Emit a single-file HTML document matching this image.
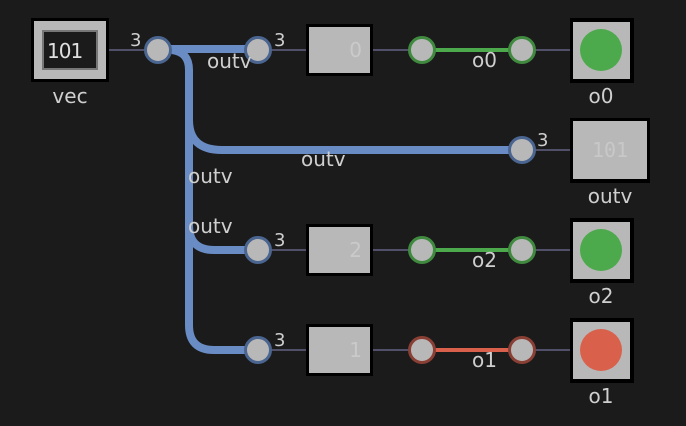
<!DOCTYPE html>
<html><head><style>html,body{margin:0;padding:0;background:#1b1b1b;}svg{display:block}</style></head>
<body>
<svg width="686" height="426" xmlns="http://www.w3.org/2000/svg" font-family="DejaVu Sans, Liberation Sans, sans-serif">
<rect width="686" height="426" fill="#1b1b1b"/>
<g stroke="#50506a" stroke-width="2">
<line x1="108" y1="50" x2="146" y2="50"/>
<line x1="270" y1="50" x2="308" y2="50"/><line x1="372" y1="50" x2="410" y2="50"/><line x1="534" y1="50" x2="572" y2="50"/>
<line x1="534" y1="150" x2="572" y2="150"/>
<line x1="270" y1="250" x2="308" y2="250"/><line x1="372" y1="250" x2="410" y2="250"/><line x1="534" y1="250" x2="572" y2="250"/>
<line x1="270" y1="350" x2="308" y2="350"/><line x1="372" y1="350" x2="410" y2="350"/><line x1="534" y1="350" x2="572" y2="350"/>
</g>
<g stroke="#6a8cc4" stroke-width="8" fill="none">
<line x1="158" y1="49" x2="258" y2="49"/>
<path d="M172 50 Q189 52 189 70 L189 325 Q189 350 214 350 L258 350"/>
<path d="M189 120 Q189 150 222 150 L522 150"/>
<path d="M189 225 Q189 250 214 250 L258 250"/>
</g>
<line x1="422" y1="50" x2="522" y2="50" stroke="#4caa4c" stroke-width="4"/>
<line x1="422" y1="250" x2="522" y2="250" stroke="#4caa4c" stroke-width="4"/>
<line x1="422" y1="350" x2="522" y2="350" stroke="#d9604a" stroke-width="4"/>
<g fill="#b8b8b8" stroke-width="3">
<circle cx="158" cy="50" r="12.5" stroke="#4a6590"/>
<circle cx="258" cy="50" r="12.5" stroke="#4a6590"/>
<circle cx="522" cy="150" r="12.5" stroke="#4a6590"/>
<circle cx="258" cy="250" r="12.5" stroke="#4a6590"/>
<circle cx="258" cy="350" r="12.5" stroke="#4a6590"/>
<circle cx="422" cy="50" r="12.5" stroke="#3f8a3f"/><circle cx="522" cy="50" r="12.5" stroke="#3f8a3f"/>
<circle cx="422" cy="250" r="12.5" stroke="#3f8a3f"/><circle cx="522" cy="250" r="12.5" stroke="#3f8a3f"/>
<circle cx="422" cy="350" r="12.5" stroke="#8a3f35"/><circle cx="522" cy="350" r="12.5" stroke="#8a3f35"/>
</g>
<rect x="31" y="18" width="78" height="64" fill="#000"/>
<rect x="34" y="21" width="72" height="58" fill="#b8b8b8"/>
<rect x="42" y="30" width="56" height="40" fill="#777"/>
<rect x="44" y="32" width="52" height="36" fill="#1b1b1b"/>
<text x="47" y="58" font-size="20" fill="#e0e0e0" letter-spacing="-1">101</text>
<g>
<rect x="306" y="24" width="67" height="52" fill="#000"/><rect x="309" y="27" width="61" height="46" fill="#b8b8b8"/>
<rect x="306" y="224" width="67" height="52" fill="#000"/><rect x="309" y="227" width="61" height="46" fill="#b8b8b8"/>
<rect x="306" y="324" width="67" height="52" fill="#000"/><rect x="309" y="327" width="61" height="46" fill="#b8b8b8"/>
</g>
<g font-size="20" fill="#cacaca" text-anchor="end">
<text x="362" y="57">0</text><text x="362" y="257">2</text><text x="362" y="357">1</text>
</g>
<rect x="570" y="18" width="64" height="65" fill="#000"/><rect x="573" y="22" width="57" height="57" fill="#b8b8b8"/>
<circle cx="601" cy="50" r="21" fill="#4caa4c"/>
<rect x="570" y="118" width="80" height="65" fill="#000"/><rect x="573" y="121" width="74" height="58" fill="#b8b8b8"/>
<text x="610" y="157" font-size="20" font-family="DejaVu Sans Mono, Liberation Mono, monospace" fill="#c8c8c8" text-anchor="middle">101</text>
<rect x="570" y="218" width="64" height="65" fill="#000"/><rect x="573" y="222" width="57" height="57" fill="#b8b8b8"/>
<circle cx="601" cy="250" r="21" fill="#4caa4c"/>
<rect x="570" y="318" width="64" height="65" fill="#000"/><rect x="573" y="322" width="57" height="57" fill="#b8b8b8"/>
<circle cx="601" cy="350" r="21" fill="#d9604a"/>
<g font-size="20" fill="#cfcfcf">
<text x="70" y="103" text-anchor="middle">vec</text>
<text x="601" y="103" text-anchor="middle">o0</text>
<text x="610" y="203" text-anchor="middle">outv</text>
<text x="601" y="303" text-anchor="middle">o2</text>
<text x="601" y="403" text-anchor="middle">o1</text>
<text x="207" y="68">outv</text>
<text x="301" y="166">outv</text>
<text x="188" y="183">outv</text>
<text x="188" y="233">outv</text>
<text x="472" y="67">o0</text>
<text x="472" y="267">o2</text>
<text x="472" y="367">o1</text>
</g>
<g font-size="18" fill="#cfcfcf">
<text x="130" y="46">3</text>
<text x="274" y="46">3</text>
<text x="537" y="146">3</text>
<text x="274" y="246">3</text>
<text x="274" y="346">3</text>
</g>
</svg>
</body></html>
